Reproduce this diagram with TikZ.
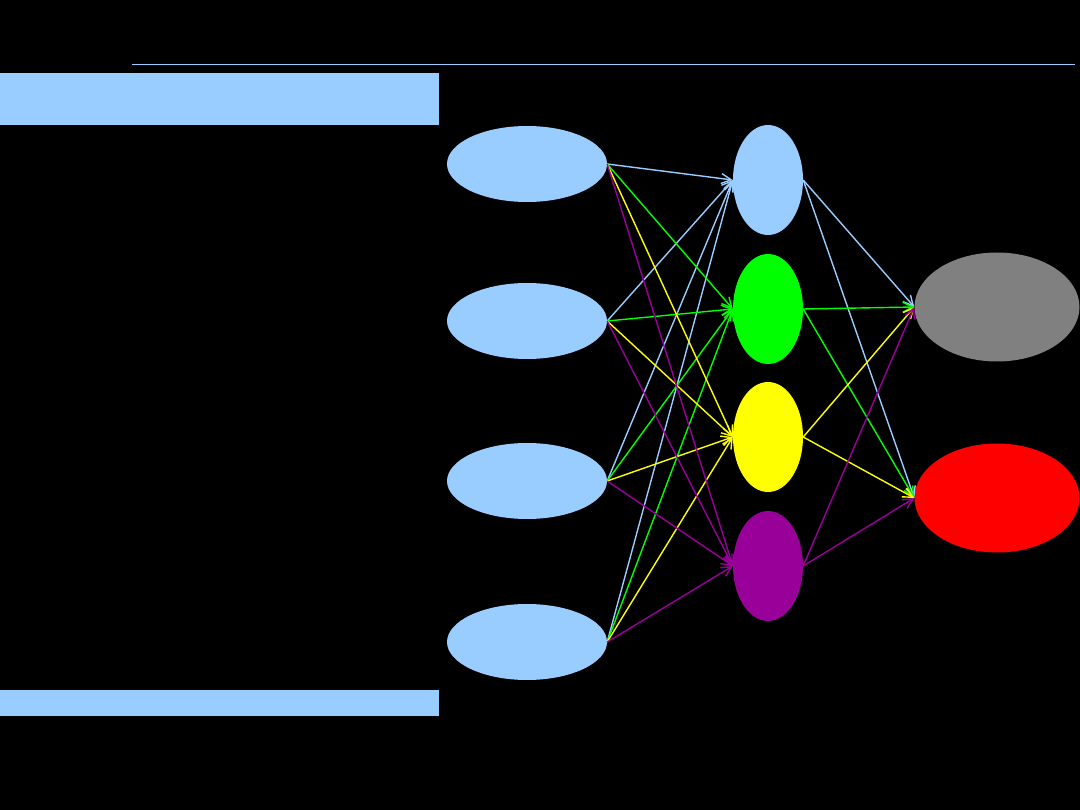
\documentclass[tikz,border=0pt]{standalone}
\usepackage{tikz}
\usepackage{xcolor}
\usetikzlibrary{arrows.meta,shapes.geometric}
\definecolor{inBlue}{RGB}{153,204,255}
\definecolor{hidGreen}{RGB}{0,255,0}
\definecolor{hidYellow}{RGB}{255,255,0}
\definecolor{hidPurple}{RGB}{153,0,153}
\definecolor{outGray}{RGB}{128,128,128}
\definecolor{outRed}{RGB}{255,0,0}
\tikzset{
  inunit/.style={ellipse, fill=inBlue, draw=none, inner sep=0pt, minimum width=160, minimum height=76},
  hidunit/.style={ellipse, draw=none, inner sep=0pt, minimum width=70, minimum height=110},
  outunit/.style={ellipse, draw=none, inner sep=0pt, minimum width=165, minimum height=109},
  wire/.style={-{Straight Barb[length=10pt,width=10pt]}, line width=1.4pt},
  bar/.style={fill=inBlue, draw=none}
}

\begin{document}
\begin{tikzpicture}[x=1pt,y=-1pt]
  \fill[black] (0,0) rectangle (1080,810);
  \useasboundingbox (0,0) rectangle (1080,810);

  \draw[inBlue, line width=1.4pt] (132,64.5) -- (1075,64.5);
  \fill[bar] (0,73) rectangle (439,125);
  \fill[bar] (0,690) rectangle (439,716);

  \node[inunit] (in1) at (527,164) {};
  \node[inunit] (in2) at (527,321) {};
  \node[inunit] (in3) at (527,481) {};
  \node[inunit] (in4) at (527,642) {};

  \node[hidunit, fill=inBlue] (hid1) at (768,180) {};
  \node[hidunit, fill=hidGreen] (hid2) at (768,309) {};
  \node[hidunit, fill=hidYellow] (hid3) at (768,437) {};
  \node[hidunit, fill=hidPurple] (hid4) at (768,566) {};

  \node[outunit, fill=outGray] (out1) at (997,307) {};
  \node[outunit, fill=outRed] (out2) at (997,498) {};

  % input -> hidden
  \draw[wire, inBlue] (in1.east) -- (hid1.west);
  \draw[wire, inBlue] (in2.east) -- (hid1.west);
  \draw[wire, inBlue] (in3.east) -- (hid1.west);
  \draw[wire, inBlue] (in4.east) -- (hid1.west);
  \draw[wire, hidGreen] (in1.east) -- (hid2.west);
  \draw[wire, hidGreen] (in2.east) -- (hid2.west);
  \draw[wire, hidGreen] (in3.east) -- (hid2.west);
  \draw[wire, hidGreen] (in4.east) -- (hid2.west);
  \draw[wire, hidYellow] (in1.east) -- (hid3.west);
  \draw[wire, hidYellow] (in2.east) -- (hid3.west);
  \draw[wire, hidYellow] (in3.east) -- (hid3.west);
  \draw[wire, hidYellow] (in4.east) -- (hid3.west);
  \draw[wire, hidPurple] (in1.east) -- (hid4.west);
  \draw[wire, hidPurple] (in2.east) -- (hid4.west);
  \draw[wire, hidPurple] (in3.east) -- (hid4.west);
  \draw[wire, hidPurple] (in4.east) -- (hid4.west);

  % hidden -> output
  \draw[wire, inBlue] (hid1.east) -- (out1.west);
  \draw[wire, inBlue] (hid1.east) -- (out2.west);
  \draw[wire, hidGreen] (hid2.east) -- (out1.west);
  \draw[wire, hidGreen] (hid2.east) -- (out2.west);
  \draw[wire, hidYellow] (hid3.east) -- (out1.west);
  \draw[wire, hidYellow] (hid3.east) -- (out2.west);
  \draw[wire, hidPurple] (hid4.east) -- (out1.west);
  \draw[wire, hidPurple] (hid4.east) -- (out2.west);
\end{tikzpicture}
\end{document}
